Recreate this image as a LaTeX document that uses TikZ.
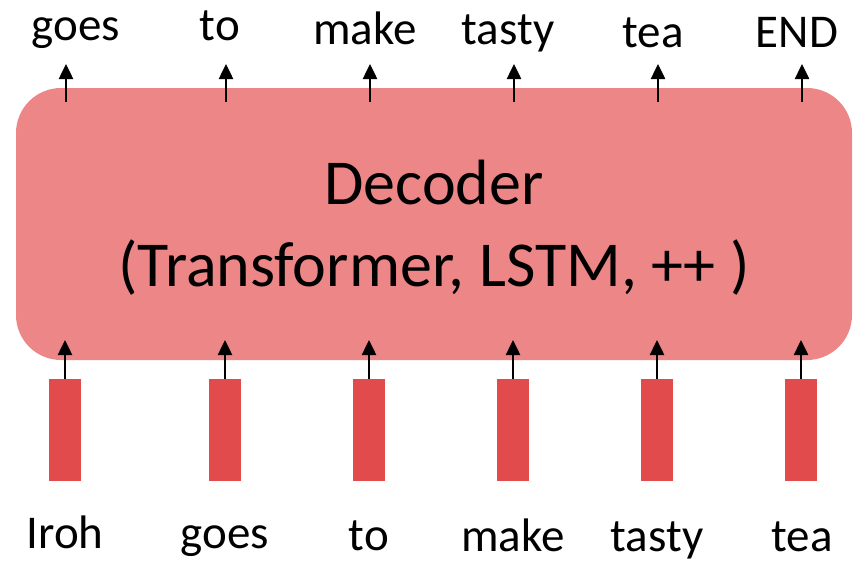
\documentclass[tikz,border=0pt]{standalone}
\usepackage{fontspec}
\setmainfont{Carlito}
\usetikzlibrary{arrows.meta}
\definecolor{boxred}{RGB}{237,134,135}
\definecolor{barred}{RGB}{226,75,75}
\tikzset{
  decbox/.style={fill=boxred, draw=none, rounded corners=45pt, minimum width=836pt, minimum height=272pt, inner sep=0pt},
  dectext/.style={inner sep=0pt, align=center, font=\fontsize{64}{82}\selectfont},
  bar/.style={fill=barred, draw=none, minimum width=32pt, minimum height=102pt, inner sep=0pt},
  word/.style={anchor=base, inner sep=0pt, font=\fontsize{47}{56}\selectfont},
  arr/.style={-{Triangle[length=15pt,width=14pt]}, line width=2.5pt, black}
}
\begin{document}
\begin{tikzpicture}[x=1pt,y=-1pt]
\useasboundingbox (0,0) rectangle (856,562);
\node[decbox] (dec) at (434,224) {};
\node[dectext] (dtxt) at (434,228) {Decoder\\(Transformer, LSTM, ++ )};
% bars
\foreach \i/\x in {1/65,2/225,3/369,4/513,5/657,6/801}{
  \node[bar] (b\i) at (\x,430) {};
  \coordinate (bt\i) at (\x,340);
  \coordinate (ts\i) at (\x+1,102);
  \coordinate (tt\i) at (\x+1,64);
  \draw[arr] (b\i.north) -- (bt\i);
  \draw[arr] (ts\i) -- (tt\i);
}
% top words
\node[word] (o1) at (76,40) {goes};
\node[word] (o2) at (220,40) {to};
\node[word] (o3) at (365,44) {make};
\node[word] (o4) at (508,44) {tasty};
\node[word] (o5) at (653,47) {tea};
\node[word] (o6) at (797,47) {END};
% bottom words
\node[word] (i1) at (65,548) {Iroh};
\node[word] (i2) at (225,548) {goes};
\node[word] (i3) at (369,550) {to};
\node[word] (i4) at (513,551) {make};
\node[word] (i5) at (657,551) {tasty};
\node[word] (i6) at (802,551) {tea};
\end{tikzpicture}
\end{document}
